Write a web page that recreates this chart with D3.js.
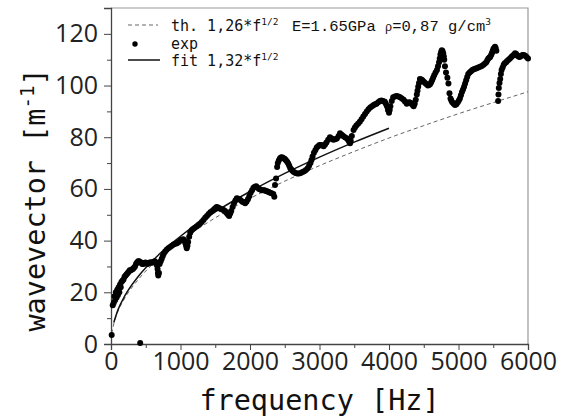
<!DOCTYPE html>
<html>
<head>
<meta charset="utf-8">
<script src="https://cdn.jsdelivr.net/npm/d3@7"></script>
<style>
  body { margin: 0; background: #fff; }
  svg { display: block; }
  .tick text { font-family: "Open Sans", sans-serif; font-size: 25px; fill: #222; }
  .mono { font-family: "DejaVu Sans Mono", monospace; fill: #111; }
</style>
</head>
<body>
<div class="container"></div>
<script>
const expFreq = [
  // 0 - 730 Hz
  25, 40, 50, 60, 70, 80, 90, 100, 110, 120, 130, 140, 150, 165, 180, 195, 210, 225, 240, 255,
  270, 285, 300, 315, 330, 345, 360, 375, 390, 405, 420, 435, 450, 465, 480, 495, 510, 525, 540, 555,
  570, 585, 600, 615, 630, 645, 660, 670, 675, 680, 690, 700, 715, 730,
  // 730 - 1400 Hz
  745, 760, 780, 800, 825, 850, 875, 900, 925, 950, 975, 1000, 1020, 1040, 1055, 1070, 1080, 1090, 1100, 1110,
  1125, 1140, 1160, 1180, 1205, 1230, 1255, 1280, 1305, 1330, 1355, 1380, 1405,
  // 1400 - 2350 Hz
  1430, 1455, 1480, 1500, 1520, 1540, 1560, 1580, 1600, 1620, 1640, 1655, 1670, 1685, 1700, 1715, 1730, 1750, 1770, 1790,
  1810, 1830, 1850, 1870, 1890, 1910, 1930, 1950, 1970, 1990, 2010, 2030, 2050, 2070, 2090, 2110, 2130, 2150, 2170, 2190,
  2210, 2230, 2250, 2270, 2290, 2310, 2335, 2350,
  // 2350 - 3450 Hz
  2360, 2375, 2390, 2400, 2415, 2430, 2445, 2460, 2475, 2490, 2505, 2520, 2535, 2550, 2565, 2580, 2595, 2610, 2630, 2655,
  2680, 2705, 2730, 2755, 2780, 2805, 2830, 2850, 2870, 2885, 2900, 2920, 2940, 2960, 2980, 3000, 3020, 3040, 3060, 3080,
  3100, 3125, 3150, 3175, 3200, 3225, 3250, 3275, 3295, 3320, 3340, 3365, 3390, 3410, 3425, 3440, 3450,
  // 3450 - 4390 Hz
  3465, 3490, 3510, 3530, 3555, 3580, 3605, 3630, 3655, 3680, 3705, 3730, 3755, 3780, 3800, 3820, 3845, 3870, 3890, 3910,
  3925, 3940, 3955, 3970, 3985, 4000, 4010, 4020, 4040, 4060, 4085, 4110, 4135, 4160, 4185, 4210, 4230, 4255, 4270, 4290,
  4310, 4325, 4340, 4355, 4370, 4385,
  // 4390 - 5550 Hz
  4400, 4410, 4420, 4432, 4445, 4465, 4480, 4500, 4520, 4540, 4560, 4575, 4590, 4605, 4620, 4635, 4650, 4670, 4690, 4705,
  4720, 4730, 4740, 4750, 4760, 4770, 4780, 4788, 4795, 4805, 4820, 4840, 4855, 4870, 4885, 4897, 4910, 4930, 4950, 4970,
  4990, 5005, 5020, 5035, 5050, 5065, 5080, 5095, 5110, 5125, 5140, 5160, 5180, 5200, 5220, 5240, 5260, 5285, 5310, 5335,
  5360, 5380, 5400, 5415, 5430, 5445, 5455, 5470, 5480, 5490, 5500, 5512, 5525, 5535, 5545,
  // 5550 - 6000 Hz
  5570, 5575, 5580, 5590, 5600, 5610, 5620, 5635, 5650, 5665, 5685, 5700, 5720, 5740, 5760, 5780, 5800, 5815, 5830, 5850,
  5865, 5880, 5900, 5920, 5940, 5960, 5980, 6000,
  // stray points
  10, 420
];
const expK = [
  15, 16, 18.5, 17, 20, 18, 21, 19, 22, 20, 23, 22, 24, 24.5, 25, 26, 26.5, 27, 27.5, 28,
  28.5, 28.5, 28.8, 29, 29.5, 30, 31, 31.5, 32, 32, 31.5, 31.5, 31, 31, 31.2, 31.5, 31.2, 31, 31.2, 31.5,
  31.5, 31.5, 31.5, 31.8, 32, 31.5, 30.5, 29, 27.5, 26.5, 27.5, 31, 32, 33,

  34, 35, 35.8, 36.5, 37, 37.5, 38, 38.5, 38.8, 39, 39.5, 40, 40.3, 40.5, 40, 39, 38, 37, 38, 39.5,
  41.5, 43, 44, 44.5, 45, 45.5, 46, 46.5, 47.2, 48, 48.8, 49.5, 50.3,

  51, 51.5, 52, 52.5, 53, 52.8, 52.5, 52.2, 52, 51.8, 51.5, 51, 50.5, 50, 49.5, 50.5, 51.5, 53, 54.5, 55.5,
  56.4, 56.2, 56, 55.5, 55, 54.8, 54.5, 55, 56, 57.2, 58.5, 59.5, 60.5, 60.8, 61, 60.5, 60, 59.8, 59.5, 59.5,
  59.5, 59.2, 59, 58.8, 58.5, 58.3, 58, 57,

  61.5, 64, 68.5, 70, 71, 71.8, 72.2, 72.3, 72, 71.8, 71.5, 71, 70.5, 69.8, 69, 68, 67.5, 67, 66.5, 66.2,
  66, 66, 66.2, 66.5, 66.8, 67.3, 68, 69, 70, 71.2, 72.5, 74, 75, 76, 76.5, 77, 77, 76.8, 76.5, 77.2,
  78, 79, 80, 79.5, 79, 79.2, 79.5, 80.5, 81.5, 81, 80.5, 80, 79.6, 79, 78.3, 77.7, 78.5,

  80.5, 82.8, 83.8, 84.5, 85.2, 86, 87, 88, 89, 90, 90.8, 91.5, 92, 92.5, 92.8, 93, 93.5, 94, 94.2, 94,
  93.8, 93.7, 93, 92, 90.5, 89.5, 90.5, 92, 94, 95.5, 95.8, 96, 95.8, 95.5, 95, 94.5, 93.8, 93, 93.3, 93.5,
  93.3, 93, 92.5, 92, 93, 94.5,

  96.5, 98, 99.5, 101, 102.5, 102.3, 102, 101.5, 101, 100.5, 100, 100.2, 100.5, 101.2, 102, 103, 104, 105, 106, 107.5,
  109, 110.5, 112, 113, 113.7, 113.4, 112.5, 111.3, 110, 107.5, 105, 103, 100.8, 97, 95, 94.2, 93.5, 93, 92.5, 92.8,
  93.5, 94.2, 95, 96.2, 97.5, 98.5, 99.5, 100.8, 102, 103.3, 104.5, 105, 105.5, 106, 106.3, 106.5, 106.7, 107, 107.3, 107.6,
  108, 108.5, 109, 109.8, 110.5, 110.8, 111, 111.8, 112.5, 113.2, 114, 114.5, 115, 114.5, 113.5,

  94, 96.5, 99, 101, 102.5, 104.5, 106, 107, 108, 108.6, 109, 109.5, 110, 110.5, 111, 111.5, 112, 112.5, 112.2, 111.5,
  111.2, 111, 111.4, 111.8, 111.8, 111.5, 111, 110.5,

  3.5, 0.4
];

// theory curve th. 1,26*f^1/2
const thFreq = [10, 50, 100, 200, 400, 700, 1000, 1500, 2000, 2500, 3000, 3500, 4000, 4500, 5000, 5500, 6000];
const thK = [4, 8.9, 12.6, 17.8, 25.2, 33.3, 39.8, 48.8, 56.3, 63, 69, 74.5, 79.7, 84.5, 89.1, 93.4, 97.6];

// fit curve 1,32*f^1/2
const fitFreq = [40, 100, 200, 400, 700, 1000, 1500, 2000, 2500, 3000, 3500, 4000];
const fitK = [8.3, 13.2, 18.7, 26.4, 34.9, 41.7, 51.1, 59, 66, 72.3, 78.1, 83.5];

// ticks
const xMajor = [0, 1000, 2000, 3000, 4000, 5000, 6000];
const xMinor = [500, 1500, 2500, 3500, 4500, 5500];
const yMajor = [0, 20, 40, 60, 80, 100, 120];
const yMinor = [10, 30, 50, 70, 90, 110, 130];

const W = 566;
const H = 418;
const margin = { top: 8, right: 38, bottom: 74, left: 111 };
const width = W - margin.left - margin.right;
const height = H - margin.top - margin.bottom;

const svg = d3.select('.container')
  .append('svg')
  .attr('width', W)
  .attr('height', H);

const g = svg.append('g')
  .attr('transform', `translate(${margin.left}, ${margin.top})`);

const x = d3.scaleLinear().domain([0, 6000]).range([0, width]);
const y = d3.scaleLinear().domain([0, 130]).range([height, 0]);

// frame: top and right in light gray
g.append('path')
  .attr('d', `M0,0H${width}V${height}`)
  .attr('fill', 'none')
  .attr('stroke', '#999')
  .attr('stroke-width', 1.2);

// axes
g.append('g')
  .attr('transform', `translate(0, ${height})`)
  .call(d3.axisBottom(x).tickValues(xMajor).tickSize(6).tickPadding(2).tickFormat(d3.format('d')));

g.append('g')
  .attr('transform', `translate(0, ${height})`)
  .call(d3.axisBottom(x).tickValues(xMinor).tickSize(4).tickFormat(''))
  .select('.domain').remove();

g.append('g')
  .call(d3.axisLeft(y).tickValues(yMajor).tickSize(7).tickPadding(6));

g.append('g')
  .call(d3.axisLeft(y).tickValues(yMinor).tickSize(4).tickFormat(''))
  .select('.domain').remove();

g.selectAll('.domain').attr('stroke', '#444').attr('stroke-width', 1.3);
g.selectAll('.tick line').attr('stroke', '#444').attr('stroke-width', 1);

// theory (dashed) and fit (solid)
const line = d3.line()
  .x(d => x(d[0]))
  .y(d => y(d[1]))
  .curve(d3.curveMonotoneX);

g.append('path')
  .datum(d3.zip(thFreq, thK))
  .attr('d', line)
  .attr('fill', 'none')
  .attr('stroke', '#666')
  .attr('stroke-width', 1)
  .attr('stroke-dasharray', '4,3');

g.append('path')
  .datum(d3.zip(fitFreq, fitK))
  .attr('d', line)
  .attr('fill', 'none')
  .attr('stroke', '#111')
  .attr('stroke-width', 1.5);

// experimental points
g.append('g')
  .selectAll('circle')
  .data(d3.zip(expFreq, expK))
  .enter()
  .append('circle')
  .attr('cx', d => x(d[0]))
  .attr('cy', d => y(d[1]))
  .attr('r', 3)
  .attr('fill', '#000');

// legend (rows kept 17.5px apart so the texts do not collide)
const legend = svg.append('g');

legend.append('line')
  .attr('x1', 128).attr('x2', 158).attr('y1', 25).attr('y2', 25)
  .attr('stroke', '#666').attr('stroke-dasharray', '4,3');

const t1 = legend.append('text')
  .attr('class', 'mono')
  .attr('x', 171)
  .attr('y', 31)
  .style('font-size', '15px');
t1.append('tspan').text('th. 1,26*f');
t1.append('tspan').attr('dy', -6).style('font-size', '9.5px').text('1/2');
t1.append('tspan')
  .attr('x', 292)
  .attr('dy', 6)
  .style('font-family', '"Liberation Mono", monospace')
  .style('font-size', '15.5px')
  .text('E=1.65GPa ');
t1.append('tspan')
  .style('font-family', '"Liberation Mono", monospace')
  .style('font-size', '12px')
  .text('ρ');
t1.append('tspan')
  .style('font-family', '"Liberation Mono", monospace')
  .style('font-size', '15.5px')
  .text('=0,87 g/cm');
t1.append('tspan')
  .attr('dy', -6)
  .style('font-size', '9.5px')
  .text('3');

legend.append('circle')
  .attr('cx', 135).attr('cy', 44).attr('r', 2.7).attr('fill', '#000');

legend.append('text')
  .attr('class', 'mono')
  .attr('x', 171)
  .attr('y', 48.5)
  .style('font-size', '15px')
  .text('exp');

legend.append('line')
  .attr('x1', 128).attr('x2', 160).attr('y1', 60).attr('y2', 60)
  .attr('stroke', '#111').attr('stroke-width', 1.5);

const t3 = legend.append('text')
  .attr('class', 'mono')
  .attr('x', 171)
  .attr('y', 66)
  .style('font-size', '15px');
t3.append('tspan').text('fit 1,32*f');
t3.append('tspan').attr('dy', -6).style('font-size', '9.5px').text('1/2');

// axis titles
svg.append('text')
  .attr('class', 'mono')
  .attr('x', margin.left + width / 2)
  .attr('y', 410)
  .attr('text-anchor', 'middle')
  .style('font-size', '28.5px')
  .text('frequency [Hz]');

const yt = svg.append('text')
  .attr('class', 'mono')
  .attr('transform', 'translate(45, 200) rotate(-90)')
  .attr('text-anchor', 'middle')
  .style('font-size', '28.5px');
yt.append('tspan').text('wavevector [m');
yt.append('tspan').attr('dy', -11).style('font-size', '19px').text('-1');
yt.append('tspan').attr('dy', 11).text(']');
</script>
</body>
</html>
